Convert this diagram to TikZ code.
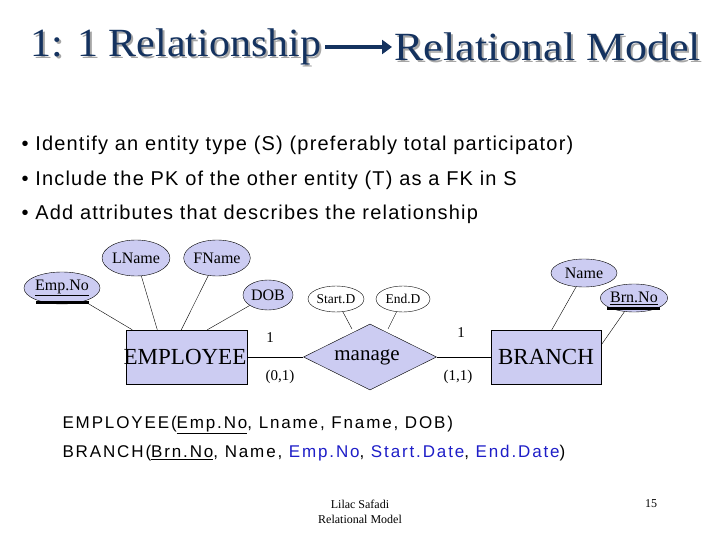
\documentclass[tikz,border=0pt]{standalone}
\usepackage{fontspec}
\setmainfont{Liberation Serif}
\setsansfont{Liberation Sans}
\newfontfamily\bulletfont{Liberation Sans}[LetterSpace=6]
\newfontfamily\relfont{Liberation Sans}[LetterSpace=11]
\usetikzlibrary{shapes.geometric,arrows.meta,calc}
\definecolor{titleblue}{RGB}{20,50,95}
\definecolor{erfill}{RGB}{204,204,242}
\definecolor{relblue}{RGB}{30,30,200}
\tikzset{
  attr/.style={ellipse,draw,fill=erfill,inner sep=0pt,font=\fontsize{16}{16}\selectfont},
  rattr/.style={ellipse,draw,fill=white,inner sep=0pt,font=\fontsize{13.5}{13.5}\selectfont},
  entity/.style={rectangle,draw,fill=erfill,inner sep=0pt},
  card/.style={font=\fontsize{15}{15}\selectfont}
}
\begin{document}
\begin{tikzpicture}[x=1pt,y=-1pt]
\useasboundingbox[fill=white] (0,0) rectangle (720,540);
% title
\foreach \dx/\col in {2/black!35,0/titleblue}{
\node[text=\col,font=\fontsize{40}{40}\selectfont,anchor=west,xscale=1.05] (t1) at (27+\dx,47+\dx) {1: 1 Relationship};
\node[text=\col,font=\fontsize{40}{40}\selectfont,anchor=east,xscale=1.1] (t2) at (705+\dx,47+\dx) {Relational Model};
}
\draw[titleblue,line width=4.5pt,-{Triangle[length=10pt,width=14pt]}] (325,47) -- (392,47);
% bullets
\foreach \y/\t in {145/Identify an entity type (S) (preferably total participator),
  180/Include the PK of the other entity (T) as a FK in S,
  214/Add attributes that describes the relationship}
\node[anchor=west,font=\bulletfont\fontsize{20}{20}\selectfont] (b\y) at (18,\y) {\textbullet\ \t};
% ER diagram
\node[entity,minimum width=121,minimum height=54] (employee) at (187,357) {};
\node[font=\fontsize{23}{23}\selectfont] (employeet) at (185,357) {EMPLOYEE};
\node[diamond,draw,fill=erfill,minimum width=133,minimum height=66,inner sep=0pt,aspect=2] (manage) at (370,357) {};
\node[font=\fontsize{21}{21}\selectfont] (managet) at (367,357) {manage};
\node[entity,minimum width=110,minimum height=54,font=\fontsize{23}{23}\selectfont] (branch) at (546,357) {BRANCH};
\draw (employee.east) -- (manage.west);
\draw (manage.east) -- (branch.west);
\node[attr,minimum width=64,minimum height=32] (empno) at (62,288) {\underline{Emp.No}};
\draw[line width=3pt] (36,302) -- (89,302);
\node[attr,minimum width=66,minimum height=36] (lname) at (136,258) {LName};
\node[attr,minimum width=62,minimum height=36] (fname) at (217,258) {FName};
\node[attr,minimum width=50,minimum height=30] (dob) at (268,295) {DOB};
\node[rattr,minimum width=56,minimum height=26] (startd) at (336,299) {Start.D};
\node[rattr,minimum width=54,minimum height=26] (endd) at (403,299) {End.D};
\node[attr,minimum width=66,minimum height=28] (name) at (584,273) {Name};
\node[attr,minimum width=64,minimum height=28] (brnno) at (634,298) {\underline{Brn.No}};
\draw[line width=3pt] (607,308) -- (660,308);
\draw (empno) -- ($(employee.north west)+(6,0)$);
\draw (lname) -- ($(employee.north west)+(31,0)$);
\draw (fname) -- ($(employee.north west)+(55,0)$);
\draw (dob) -- ($(employee.north west)+(81,0)$);
\draw (startd) -- (352,329);
\draw (endd) -- (388,329);
\draw (name) -- ($(branch.north west)+(61,0)$);
\draw (brnno) -- ($(branch.east)+(0,-12)$);
\node[card] (c1) at (270,338) {1};
\node[card] (c2) at (280,377) {(0,1)};
\node[card] (c3) at (461,333) {1};
\node[card] (c4) at (458,377) {(1,1)};
% relations
\node[anchor=west,font=\relfont\fontsize{17}{17}\selectfont] (r1) at (59,425) {EMPLOYEE(\underline{Emp.No}, Lname, Fname, DOB)};
\node[anchor=west,font=\relfont\fontsize{17}{17}\selectfont] (r2) at (59,453) {BRANCH(\underline{Brn.No}, Name, \textcolor{relblue}{Emp.No}, \textcolor{relblue}{Start.Date}, \textcolor{relblue}{End.Date})};
% footer
\node[align=center,font=\fontsize{12}{15}\selectfont] (foot) at (360,512) {Lilac Safadi\\Relational Model};
\node[font=\fontsize{12}{12}\selectfont] (page) at (651,504) {15};
\end{tikzpicture}
\end{document}
